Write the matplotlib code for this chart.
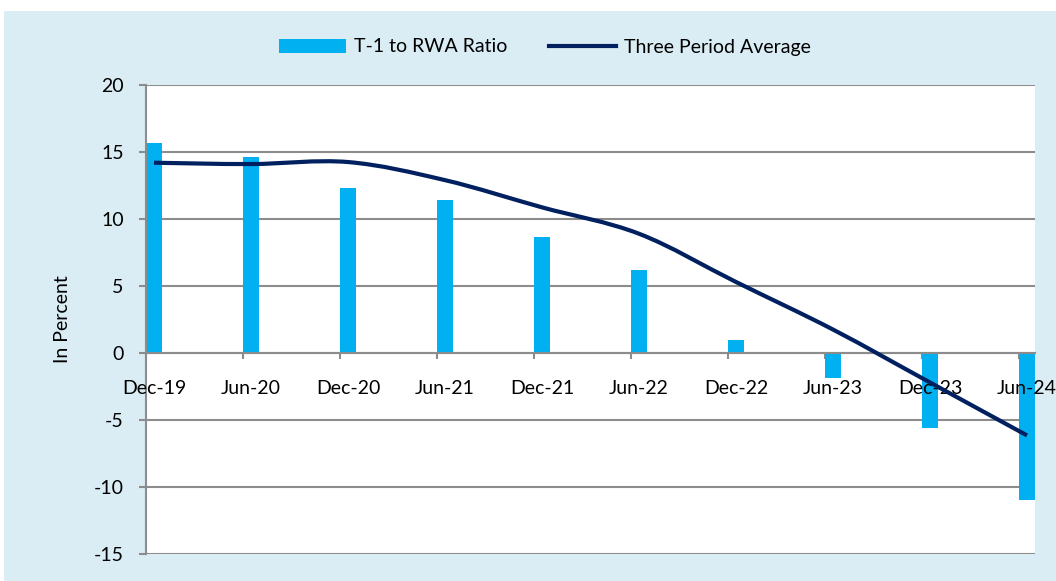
import matplotlib
matplotlib.use("Agg")
import matplotlib.pyplot as plt
from matplotlib.patches import Rectangle, Patch
from matplotlib.lines import Line2D
from matplotlib.path import Path
from matplotlib.patches import PathPatch
import numpy as np

# Data
periods = ["Dec-19", "Jun-20", "Dec-20", "Jun-21", "Dec-21",
           "Jun-22", "Dec-22", "Jun-23", "Dec-23", "Jun-24"]
t1_rwa_ratio = [15.65, 14.6, 12.35, 11.4, 8.65, 6.18, 0.95, -1.85, -5.6, -11.0]
three_period_avg = [14.2, 14.1, 14.25, 12.9, 10.87, 8.9, 5.3, 1.75, -2.2, -6.15]
yticks = [-15, -10, -5, 0, 5, 10, 15, 20]

BAR_COLOR = "#00B0F0"
LINE_COLOR = "#002060"
GRID_COLOR = "#8C8C8C"
BG_COLOR = "#DAEDF4"
FONT = "Lato"
FS = 14

plt.rcParams["font.family"] = [FONT, "DejaVu Sans"]

W, H = 1056, 581
fig = plt.figure(figsize=(W / 100, H / 100), dpi=100)
fig.patch.set_facecolor("white")
fig.add_artist(Rectangle((4 / W, 0), 1 - 4 / W, 1 - 11 / H,
                         transform=fig.transFigure, facecolor=BG_COLOR,
                         edgecolor="none", zorder=-10))

left, right, top, bottom = 146 / W, 1035 / W, 85 / H, 554 / H
ax = fig.add_axes([left, 1 - bottom, right - left, bottom - top])
ax.set_facecolor("white")

n = len(periods)
bar_w = 0.165
idx = np.arange(n)
ax.bar(idx, t1_rwa_ratio, width=bar_w, align="edge", color=BAR_COLOR,
       zorder=1)

# Smoothed average line (cubic Bezier through the points)
xc = idx + bar_w / 2
pts = np.column_stack([xc, three_period_avg])
verts = [pts[0]]
codes = [Path.MOVETO]
for i in range(n - 1):
    p0 = pts[i - 1] if i > 0 else pts[i]
    p1 = pts[i]
    p2 = pts[i + 1]
    p3 = pts[i + 2] if i + 2 < n else pts[i + 1]
    c1 = p1 + (p2 - p0) / 6
    c2 = p2 - (p3 - p1) / 6
    verts += [c1, c2, p2]
    codes += [Path.CURVE4] * 3
ax.add_patch(PathPatch(Path(verts, codes), facecolor="none",
                       edgecolor=LINE_COLOR, linewidth=3.0, zorder=5,
                       capstyle="butt"))

ax.set_xlim(0, n - 1 + 0.165)
ax.set_ylim(-15, 20)
ax.set_yticks(yticks)
ax.set_yticklabels([str(v) for v in yticks], fontsize=FS)
ax.set_xticks(idx)
ax.set_xticklabels([])

ax.set_axisbelow(True)
ax.yaxis.grid(True, color=GRID_COLOR, linewidth=1.5)
ax.xaxis.grid(False)

for s in ["top", "right"]:
    ax.spines[s].set_visible(False)
ax.spines["left"].set_color(GRID_COLOR)
ax.spines["left"].set_linewidth(1.5)
ax.spines["bottom"].set_position(("data", 0))
ax.spines["bottom"].set_color(GRID_COLOR)
ax.spines["bottom"].set_linewidth(1.5)
ax.spines["bottom"].set_zorder(2)

ax.tick_params(axis="y", length=5, width=1.5, color=GRID_COLOR, pad=11,
               labelcolor="black")
ax.tick_params(axis="x", length=4.3, width=1.5, color=GRID_COLOR,
               direction="out")

# Category labels beneath the zero line
for x, lab in zip(xc, periods):
    ax.annotate(lab, xy=(x, 0), xytext=(0, -27), textcoords="offset pixels",
                ha="center", va="top", fontsize=FS, color="black", zorder=3)

fig.text(63 / W, 1 - 319 / H, "In Percent", rotation=90, ha="center",
         va="center", fontsize=FS)

handles = [Patch(facecolor=BAR_COLOR, edgecolor="none", label="T-1 to RWA Ratio"),
           Line2D([], [], color=LINE_COLOR, linewidth=3.0, label="Three Period Average")]
fig.legend(handles=handles, loc="center", bbox_to_anchor=(545 / W, 1 - 47 / H),
           ncol=2, frameon=False, fontsize=FS, handlelength=3.45,
           handleheight=0.72, handletextpad=0.45, columnspacing=2.1)

fig.savefig("out.png", dpi=100)
